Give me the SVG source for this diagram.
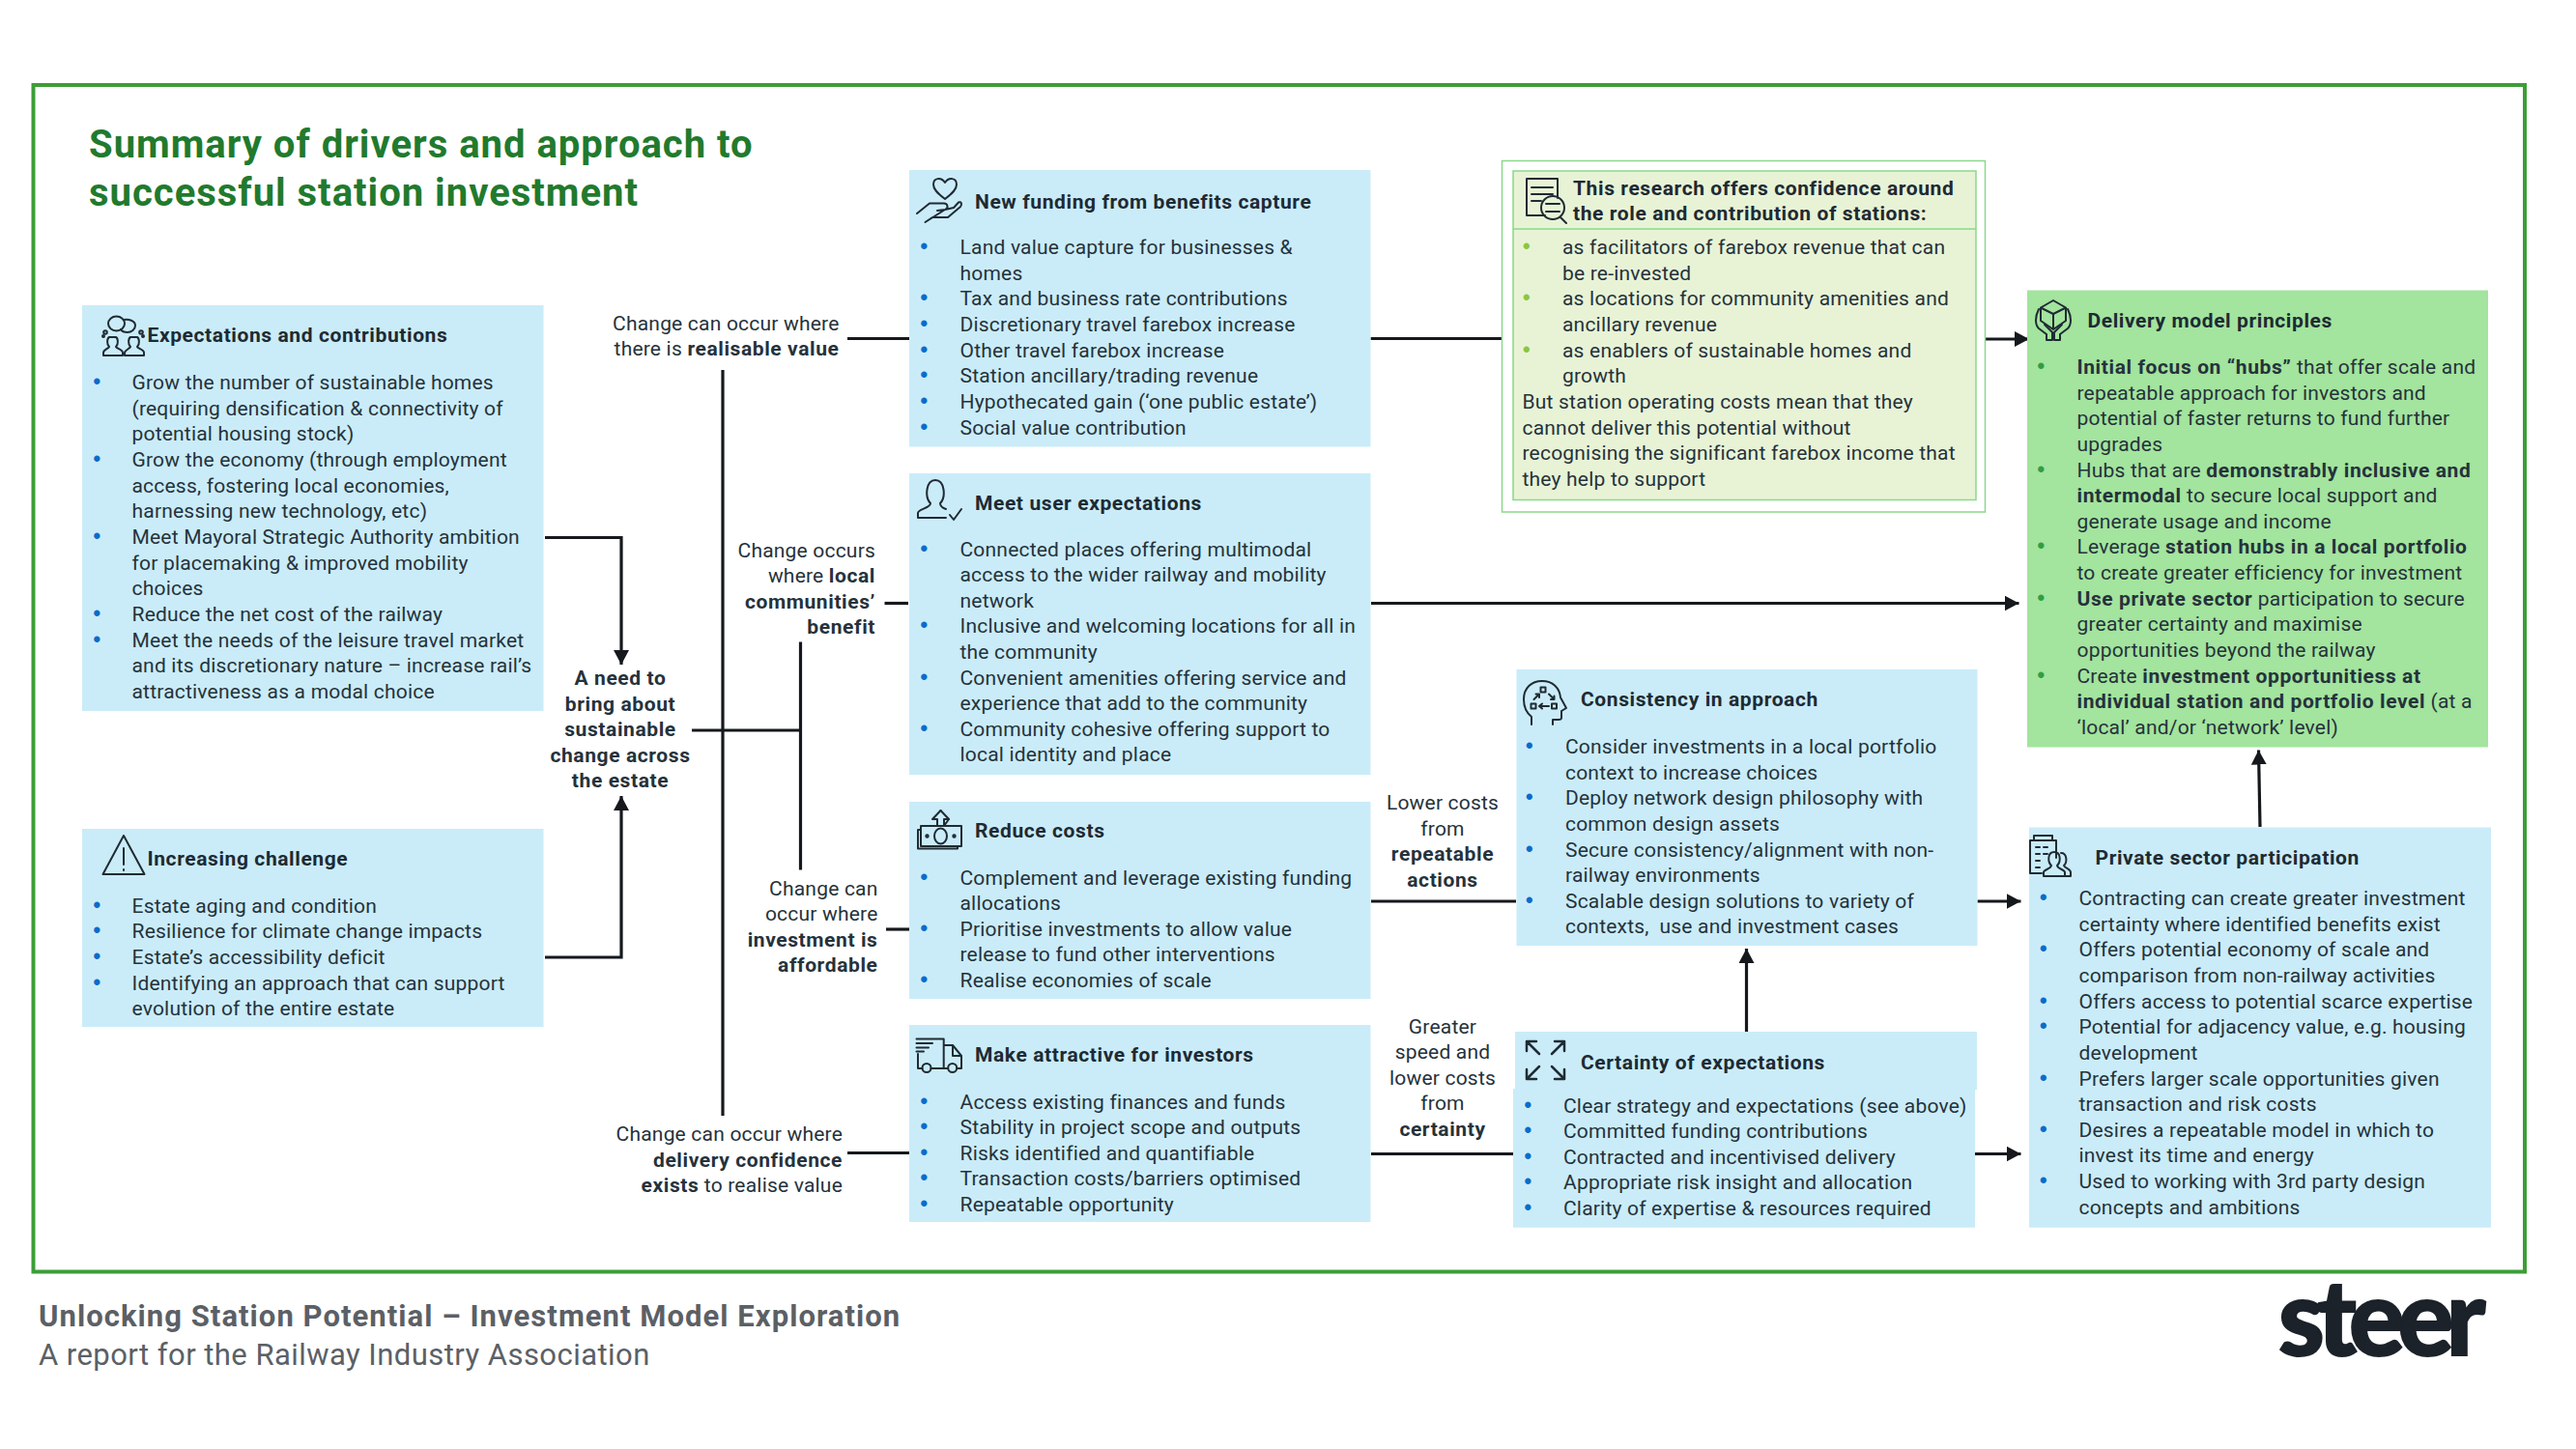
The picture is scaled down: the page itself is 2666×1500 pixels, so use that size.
<svg xmlns="http://www.w3.org/2000/svg" width="2666" height="1500" viewBox="0 0 2666 1500">
<style>
text{font-family:Roboto,"Liberation Sans",sans-serif;font-size:21px;fill:#25323b;letter-spacing:.2px}
.h,.b{font-weight:700;letter-spacing:.6px}
.h{fill:#1d2a33}
.r{text-anchor:end}
.c{text-anchor:middle}
.u,.ug,.ud{font-family:"Liberation Sans",sans-serif;font-size:23px;text-anchor:middle}
.u{fill:#0b6bcb}
.ug{fill:#8cc63f}
.ud{fill:#2f9e44}
.box{fill:#caecf8}
.i{fill:none;stroke:#1f2b33;stroke-width:2;stroke-linejoin:round;stroke-linecap:round}
.ln{fill:none;stroke:#15181c;stroke-width:3.200}
.ti{font-size:40px;font-weight:700;fill:#217a2d;letter-spacing:1px}
.f1{font-size:31px;font-weight:700;fill:#5b6066;letter-spacing:1.05px}
.f2{font-size:31px;fill:#5b6066;letter-spacing:.45px}
</style>
<defs>
<marker id="a" markerUnits="userSpaceOnUse" markerWidth="20" markerHeight="20" refX="15" refY="8" orient="auto"><path d="M0 0L15 8L0 16z" fill="#15181c"/></marker>
</defs>
<rect id="frame" x="34.500" y="88" width="2578.500" height="1228.500" fill="none" stroke="#3c9e36" stroke-width="4"/>
<g id="title"><text class="ti" x="92" y="163">Summary of drivers and approach to</text><text class="ti" x="92" y="213">successful station investment</text></g>

<g id="connectors">
<path class="ln" d="M564 556.500H643V688" marker-end="url(#a)"/>
<path class="ln" d="M564 991H643V824" marker-end="url(#a)"/>
<path class="ln" d="M716 756H828"/>
<path class="ln" d="M748 383V1155"/>
<path class="ln" d="M828.500 664.500V900.500"/>
<path class="ln" d="M877 350.500H941"/>
<path class="ln" d="M1418.500 350.500H1554"/>
<path class="ln" d="M2055 351H2100" marker-end="url(#a)"/>
<path class="ln" d="M915.500 624.500H940"/>
<path class="ln" d="M1419 624.500H2089.500" marker-end="url(#a)"/>
<path class="ln" d="M917 962H941"/>
<path class="ln" d="M1419 933H1569"/>
<path class="ln" d="M2046.500 933H2091.500" marker-end="url(#a)"/>
<path class="ln" d="M877 1193.500H941"/>
<path class="ln" d="M1419 1194.500H1566"/>
<path class="ln" d="M2044 1194.500H2091.500" marker-end="url(#a)"/>
<path class="ln" d="M1807.500 1068V982" marker-end="url(#a)"/>
<path class="ln" d="M2339 856L2337.500 776.500" marker-end="url(#a)"/>
</g>

<g id="labels">
<text class="r" x="868.500" y="342">Change can occur where</text>
<text class="r" x="868.500" y="368">there is <tspan class="b">realisable value</tspan></text>
<text class="r" x="906" y="576.500">Change occurs</text>
<text class="r" x="906" y="603">where <tspan class="b">local</tspan></text>
<text class="r b" x="906" y="629.500">communities’</text>
<text class="r b" x="906" y="656">benefit</text>
<text class="r" x="908.500" y="926.500">Change can</text>
<text class="r" x="908.500" y="953">occur where</text>
<text class="r b" x="908.500" y="979.500">investment is</text>
<text class="r b" x="908.500" y="1006">affordable</text>
<text class="r" x="872" y="1181">Change can occur where</text>
<text class="r b" x="872" y="1207.500">delivery confidence</text>
<text class="r" x="872" y="1234"><tspan class="b">exists</tspan> to realise value</text>
<text class="c b" x="642" y="709">A need to</text>
<text class="c b" x="642" y="735.500">bring about</text>
<text class="c b" x="642" y="762">sustainable</text>
<text class="c b" x="642" y="788.500">change across</text>
<text class="c b" x="642" y="815">the estate</text>
<text class="c" x="1493" y="838">Lower costs</text>
<text class="c" x="1493" y="864.500">from</text>
<text class="c b" x="1493" y="891">repeatable</text>
<text class="c b" x="1493" y="917.500">actions</text>
<text class="c" x="1493" y="1069.500">Greater</text>
<text class="c" x="1493" y="1096">speed and</text>
<text class="c" x="1493" y="1122.500">lower costs</text>
<text class="c" x="1493" y="1149">from</text>
<text class="c b" x="1493" y="1175.500">certainty</text>
</g>

<g id="expectations">
<rect class="box" x="85" y="316" width="477.500" height="420"/>
<g class="i"><ellipse cx="120.500" cy="335" rx="8.500" ry="7.500"/><path d="M128 331c5-1 12 1 12 6c0 4-4 7-8 7c-3 0-6-1-7-3"/><circle cx="109" cy="344" r="1.800"/><circle cx="107" cy="348" r="1"/><circle cx="146" cy="344" r="1.800"/><circle cx="148" cy="348" r="1"/><path d="M107 368v-3c0-3 5-4 6-6c-3-3-2-9 0-10h7c2 1 3 7 0 10c1 2 7 3 7 6v3zM129 368h20v-3c0-3-6-4-7-6c3-3 2-9 0-10h-7c-2 1-3 7 0 10c-1 2-5 3-6 6z"/></g>
<text class="h" x="152.500" y="354">Expectations and contributions</text>
<text class="u" x="100.500" y="403">•</text><text x="136.500" y="403">Grow the number of sustainable homes</text>
<text x="136.500" y="429.700">(requiring densification &amp; connectivity of</text>
<text x="136.500" y="456.300">potential housing stock)</text>
<text class="u" x="100.500" y="483">•</text><text x="136.500" y="483">Grow the economy (through employment</text>
<text x="136.500" y="509.700">access, fostering local economies,</text>
<text x="136.500" y="536.300">harnessing new technology, etc)</text>
<text class="u" x="100.500" y="563">•</text><text x="136.500" y="563">Meet Mayoral Strategic Authority ambition</text>
<text x="136.500" y="589.700">for placemaking &amp; improved mobility</text>
<text x="136.500" y="616.300">choices</text>
<text class="u" x="100.500" y="643">•</text><text x="136.500" y="643">Reduce the net cost of the railway</text>
<text class="u" x="100.500" y="669.700">•</text><text x="136.500" y="669.700">Meet the needs of the leisure travel market</text>
<text x="136.500" y="696.300">and its discretionary nature – increase rail’s</text>
<text x="136.500" y="723">attractiveness as a modal choice</text>
</g>

<g id="challenge">
<rect class="box" x="85" y="858" width="477.500" height="205"/>
<g class="i"><path d="M128 865L106.500 905H149.500z"/><path d="M128 878V895M128 900v1"/></g>
<text class="h" x="152.500" y="895.500">Increasing challenge</text>
<text class="u" x="100.500" y="944.500">•</text><text x="136.500" y="944.500">Estate aging and condition</text>
<text class="u" x="100.500" y="971">•</text><text x="136.500" y="971">Resilience for climate change impacts</text>
<text class="u" x="100.500" y="997.500">•</text><text x="136.500" y="997.500">Estate’s accessibility deficit</text>
<text class="u" x="100.500" y="1024.500">•</text><text x="136.500" y="1024.500">Identifying an approach that can support</text>
<text x="136.500" y="1051">evolution of the entire estate</text>
</g>

<g id="funding">
<rect class="box" x="941" y="176" width="477.500" height="286.500"/>
<g class="i"><path d="M978 206c-8-6-12-10-12-15c0-7 8-8 12-2c4-6 12-5 12 2c0 5-4 9-12 15z"/><path d="M949 221L962 210.500H977C981 210.500 982 216 978 217L970 218M978 217L987 215L992 209.500C995 208 996 212 994 214L981 225H965L957.500 230Z"/></g>
<text class="h" x="1009" y="215.500">New funding from benefits capture</text>
<text class="u" x="956.500" y="263">•</text><text x="993.500" y="263">Land value capture for businesses &amp;</text>
<text x="993.500" y="289.700">homes</text>
<text class="u" x="956.500" y="316.300">•</text><text x="993.500" y="316.300">Tax and business rate contributions</text>
<text class="u" x="956.500" y="343">•</text><text x="993.500" y="343">Discretionary travel farebox increase</text>
<text class="u" x="956.500" y="369.600">•</text><text x="993.500" y="369.600">Other travel farebox increase</text>
<text class="u" x="956.500" y="396.200">•</text><text x="993.500" y="396.200">Station ancillary/trading revenue</text>
<text class="u" x="956.500" y="422.900">•</text><text x="993.500" y="422.900">Hypothecated gain (‘one public estate’)</text>
<text class="u" x="956.500" y="449.500">•</text><text x="993.500" y="449.500">Social value contribution</text>
</g>

<g id="user">
<rect class="box" x="941" y="490" width="477.500" height="312"/>
<g class="i"><path d="M950 536v-5c0-4 13-5 13-10c-6-6-5-24 5-24s11 18 5 24c0 3 3 5 6 6M950 536h29M983 533l4 5l8-11"/></g>
<text class="h" x="1009" y="528">Meet user expectations</text>
<text class="u" x="956.500" y="575.500">•</text><text x="993.500" y="575.500">Connected places offering multimodal</text>
<text x="993.500" y="602">access to the wider railway and mobility</text>
<text x="993.500" y="628.700">network</text>
<text class="u" x="956.500" y="655.300">•</text><text x="993.500" y="655.300">Inclusive and welcoming locations for all in</text>
<text x="993.500" y="682">the community</text>
<text class="u" x="956.500" y="708.500">•</text><text x="993.500" y="708.500">Convenient amenities offering service and</text>
<text x="993.500" y="735">experience that add to the community</text>
<text class="u" x="956.500" y="761.700">•</text><text x="993.500" y="761.700">Community cohesive offering support to</text>
<text x="993.500" y="788.400">local identity and place</text>
</g>

<g id="costs">
<rect class="box" x="941" y="830" width="477.500" height="204"/>
<g class="i"><path d="M973.500 839L965 848H970V855M977 855V848H982Z"/><path d="M973.500 839L982 848"/><rect x="953" y="855" width="42" height="21"/><path d="M953 859H950V878.500H991V876"/><ellipse cx="973.500" cy="865.500" rx="6.500" ry="8"/><circle cx="959.500" cy="865.500" r="1.200"/><circle cx="987.500" cy="865.500" r="1.200"/></g>
<text class="h" x="1009" y="867">Reduce costs</text>
<text class="u" x="956.500" y="915.500">•</text><text x="993.500" y="915.500">Complement and leverage existing funding</text>
<text x="993.500" y="942">allocations</text>
<text class="u" x="956.500" y="968.700">•</text><text x="993.500" y="968.700">Prioritise investments to allow value</text>
<text x="993.500" y="995.300">release to fund other interventions</text>
<text class="u" x="956.500" y="1022">•</text><text x="993.500" y="1022">Realise economies of scale</text>
</g>

<g id="investors">
<rect class="box" x="941" y="1061" width="477.500" height="204"/>
<g class="i"><path d="M950 1091V1106H954.500M963.500 1106H981M976.700 1106V1075.500H948.500M948.500 1080H965M948.500 1084.500H961M948.500 1088.500H956M976.700 1082H986L995 1093V1106H990.500M986 1082V1093H995"/><circle cx="959" cy="1105.500" r="4.500"/><circle cx="985.700" cy="1105.500" r="4.500"/></g>
<text class="h" x="1009" y="1098.500">Make attractive for investors</text>
<text class="u" x="956.500" y="1147.500">•</text><text x="993.500" y="1147.500">Access existing finances and funds</text>
<text class="u" x="956.500" y="1174.200">•</text><text x="993.500" y="1174.200">Stability in project scope and outputs</text>
<text class="u" x="956.500" y="1200.800">•</text><text x="993.500" y="1200.800">Risks identified and quantifiable</text>
<text class="u" x="956.500" y="1227.400">•</text><text x="993.500" y="1227.400">Transaction costs/barriers optimised</text>
<text class="u" x="956.500" y="1254">•</text><text x="993.500" y="1254">Repeatable opportunity</text>
</g>

<g id="research">
<rect x="1554.500" y="166.500" width="500" height="363.500" fill="#fff" stroke="#8ad98a" stroke-width="1.500"/>
<rect x="1566" y="177" width="479" height="340.500" fill="#e8f3d6" stroke="#8ad98a" stroke-width="1.500"/>
<path d="M1566 237H2045" stroke="#8ad98a" stroke-width="1.500"/>
<g class="i" transform="translate(-13,-3)"><path d="M1612 226H1593V188H1625V208M1598 197H1620M1598 204H1620M1598 211H1608"/><circle cx="1620" cy="218" r="12"/><path d="M1628 228l6 6M1613 214h14M1613 222h14"/></g>
<text class="h" x="1628" y="202">This research offers confidence around</text>
<text class="h" x="1628" y="228">the role and contribution of stations:</text>
<text class="ug" x="1580" y="263">•</text><text x="1617" y="263">as facilitators of farebox revenue that can</text>
<text x="1617" y="289.700">be re-invested</text>
<text class="ug" x="1580" y="316.300">•</text><text x="1617" y="316.300">as locations for community amenities and</text>
<text x="1617" y="343">ancillary revenue</text>
<text class="ug" x="1580" y="369.600">•</text><text x="1617" y="369.600">as enablers of sustainable homes and</text>
<text x="1617" y="396.200">growth</text>
<text x="1575.500" y="422.500">But station operating costs mean that they</text>
<text x="1575.500" y="449.500">cannot deliver this potential without</text>
<text x="1575.500" y="476">recognising the significant farebox income that</text>
<text x="1575.500" y="502.700">they help to support</text>
</g>

<g id="delivery">
<rect x="2098" y="300.500" width="477" height="473" fill="#a3e49e"/>
<g class="i"><path d="M2125 311L2138 318.500V332L2125 341L2112 332V318.500ZM2112 318.500L2125 325L2138 318.500M2125 325V341"/><path d="M2110 320C2106 328 2106 336 2110 340L2118 346V352H2124V344L2116 336M2140 320C2144 328 2144 336 2140 340L2132 346V352H2126V344L2134 336"/></g>
<text class="h" x="2160.500" y="338.500">Delivery model principles</text>
<text class="ud" x="2112.500" y="387">•</text><text x="2149.500" y="387"><tspan class="b">Initial focus on “hubs”</tspan> that offer scale and</text>
<text x="2149.500" y="413.600">repeatable approach for investors and</text>
<text x="2149.500" y="440.300">potential of faster returns to fund further</text>
<text x="2149.500" y="466.900">upgrades</text>
<text class="ud" x="2112.500" y="493.500">•</text><text x="2149.500" y="493.500">Hubs that are <tspan class="b">demonstrably inclusive and</tspan></text>
<text x="2149.500" y="520.200"><tspan class="b">intermodal</tspan> to secure local support and</text>
<text x="2149.500" y="546.800">generate usage and income</text>
<text class="ud" x="2112.500" y="573.400">•</text><text x="2149.500" y="573.400">Leverage <tspan class="b">station hubs in a local portfolio</tspan></text>
<text x="2149.500" y="600">to create greater efficiency for investment</text>
<text class="ud" x="2112.500" y="626.700">•</text><text x="2149.500" y="626.700"><tspan class="b">Use private sector</tspan> participation to secure</text>
<text x="2149.500" y="653.300">greater certainty and maximise</text>
<text x="2149.500" y="680">opportunities beyond the railway</text>
<text class="ud" x="2112.500" y="706.600">•</text><text x="2149.500" y="706.600">Create <tspan class="b">investment opportunitiess at</tspan></text>
<text x="2149.500" y="733.200"><tspan class="b">individual station and portfolio level</tspan> (at a</text>
<text x="2149.500" y="759.800">‘local’ and/or ‘network’ level)</text>
</g>

<g id="consistency">
<rect class="box" x="1569.500" y="693" width="477" height="286"/>
<g class="i"><path d="M1585 750V742C1580 738 1577 732 1577 724C1577 712 1585 705 1596 705C1607 705 1614 712 1615 722L1621 733L1616 736V743C1616 745 1615 745 1613 745H1607V750"/><rect x="1594.500" y="711.500" width="5" height="5"/><rect x="1584.500" y="728.500" width="5" height="5"/><rect x="1606" y="728.500" width="5" height="5"/><path d="M1593 731H1603M1593 731l3-2.500M1593 731l3 2.500M1587.500 724L1593 718.500M1593 722V718.500H1589.500M1603 718.500L1608.500 724M1608.500 720.500V724H1605"/></g>
<text class="h" x="1636" y="731">Consistency in approach</text>
<text class="u" x="1583" y="780">•</text><text x="1620" y="780">Consider investments in a local portfolio</text>
<text x="1620" y="806.600">context to increase choices</text>
<text class="u" x="1583" y="833.200">•</text><text x="1620" y="833.200">Deploy network design philosophy with</text>
<text x="1620" y="859.900">common design assets</text>
<text class="u" x="1583" y="886.500">•</text><text x="1620" y="886.500">Secure consistency/alignment with non-</text>
<text x="1620" y="913.100">railway environments</text>
<text class="u" x="1583" y="939.700">•</text><text x="1620" y="939.700">Scalable design solutions to variety of</text>
<text x="1620" y="966.300">contexts,&#160; use and investment cases</text>
</g>

<g id="certainty">
<rect class="box" x="1568" y="1068" width="478" height="60"/>
<rect class="box" x="1566" y="1127" width="478" height="143.700"/>
<g class="i" style="stroke-width:2.500" transform="translate(-13,-6)"><path d="M1606 1097l-13-13M1593 1094v-10h10M1619 1097l13-13M1622 1084h10v10M1606 1110l-13 13M1593 1113v10h10M1619 1110l13 13M1622 1123h10v-10"/></g>
<text class="h" x="1636" y="1106.500">Certainty of expectations</text>
<text class="u" x="1581.500" y="1151.500">•</text><text x="1618" y="1151.500">Clear strategy and expectations (see above)</text>
<text class="u" x="1581.500" y="1178">•</text><text x="1618" y="1178">Committed funding contributions</text>
<text class="u" x="1581.500" y="1204.700">•</text><text x="1618" y="1204.700">Contracted and incentivised delivery</text>
<text class="u" x="1581.500" y="1231.300">•</text><text x="1618" y="1231.300">Appropriate risk insight and allocation</text>
<text class="u" x="1581.500" y="1258">•</text><text x="1618" y="1258">Clarity of expertise &amp; resources required</text>
</g>

<g id="private">
<rect class="box" x="2100" y="856.500" width="478" height="414.200"/>
<g class="i" transform="translate(-19,-8)"><path d="M2120 912V878H2147V896M2124 878v-5h19v5M2126 885h4M2134 885h4M2126 892h4M2134 892h4M2126 899h4M2126 906h4M2120 912h12"/><path d="M2134 915v-4c0-3 7-3 8-7c-4-4-4-14 3-14s7 10 3 14c1 4 8 4 8 7v4zM2152 891c6 0 7 9 3 13c1 3 7 3 7 7v4h-6"/></g>
<text class="h" x="2168.500" y="894.500">Private sector participation</text>
<text class="u" x="2115" y="937">•</text><text x="2151.500" y="937">Contracting can create greater investment</text>
<text x="2151.500" y="963.700">certainty where identified benefits exist</text>
<text class="u" x="2115" y="990.300">•</text><text x="2151.500" y="990.300">Offers potential economy of scale and</text>
<text x="2151.500" y="1017">comparison from non-railway activities</text>
<text class="u" x="2115" y="1043.600">•</text><text x="2151.500" y="1043.600">Offers access to potential scarce expertise</text>
<text class="u" x="2115" y="1070.200">•</text><text x="2151.500" y="1070.200">Potential for adjacency value, e.g. housing</text>
<text x="2151.500" y="1096.800">development</text>
<text class="u" x="2115" y="1123.500">•</text><text x="2151.500" y="1123.500">Prefers larger scale opportunities given</text>
<text x="2151.500" y="1150">transaction and risk costs</text>
<text class="u" x="2115" y="1176.700">•</text><text x="2151.500" y="1176.700">Desires a repeatable model in which to</text>
<text x="2151.500" y="1203.400">invest its time and energy</text>
<text class="u" x="2115" y="1230">•</text><text x="2151.500" y="1230">Used to working with 3rd party design</text>
<text x="2151.500" y="1256.900">concepts and ambitions</text>
</g>

<g id="footer">
<text class="f1" x="40" y="1372.500">Unlocking Station Potential – Investment Model Exploration</text>
<text class="f2" x="40" y="1412.500">A report for the Railway Industry Association</text>
<text x="2358" y="1403" style="font-size:108px;font-weight:900;fill:#1c2229;font-family:Lato,sans-serif;letter-spacing:-7.500px;stroke:#1c2229;stroke-width:2">steer</text>
</g>
</svg>
